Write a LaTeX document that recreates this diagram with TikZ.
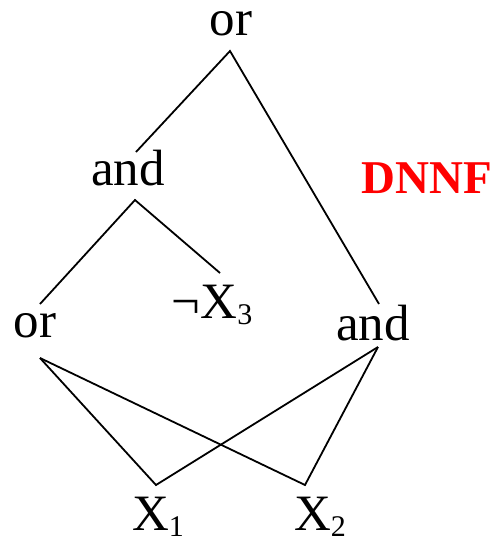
\documentclass[tikz,border=0pt]{standalone}
\usepackage{xcolor}
\usepackage{fontspec}
\setmainfont{Liberation Serif}
\usepackage{tikz}

\newcommand{\lowidx}[1]{\raisebox{-6pt}{\fontsize{30}{30}\selectfont #1}}

\begin{document}
\begin{tikzpicture}[x=1pt, y=-1pt, line width=1.8pt,
  lbl/.style={anchor=base, inner sep=0pt, font=\fontsize{51}{60}\selectfont}]

\useasboundingbox (0,0) rectangle (495,539);

% Knoten
\node[lbl] (or0) at (231,35) {or};
\node[lbl] (and1) at (128,185) {and};
\node[lbl] (or2) at (35,337) {or};
\node[lbl] (nx3) at (212,318) {¬X\lowidx{3}};
\node[lbl] (and2) at (373,340) {and};
\node[lbl] (x1) at (158,530) {X\lowidx{1}};
\node[lbl] (x2) at (320,530) {X\lowidx{2}};

\node[anchor=base, inner sep=0pt, text=red,
  font=\fontsize{47}{56}\selectfont\bfseries] (dnnf) at (427,193) {DNNF};

% Anschlusspunkte
\coordinate (or0-s) at ([shift={(-1,16)}]or0.base);
\coordinate (and1-n) at ([shift={(8,-33)}]and1.base);
\coordinate (and1-s) at ([shift={(7,15)}]and1.base);
\coordinate (or2-n) at ([shift={(5,-33)}]or2.base);
\coordinate (or2-s) at ([shift={(5,21)}]or2.base);
\coordinate (nx3-n) at ([shift={(8,-45)}]nx3.base);
\coordinate (and2-n) at ([shift={(6,-36)}]and2.base);
\coordinate (and2-s) at ([shift={(5,7)}]and2.base);
\coordinate (x1-n) at ([shift={(-2,-45)}]x1.base);
\coordinate (x2-n) at ([shift={(-15,-45)}]x2.base);

% Kanten
\draw (and1-n) -- (or0-s) -- (and2-n);
\draw (or2-n) -- (and1-s) -- (nx3-n);
\draw (or2-s) -- (x1-n) -- (and2-s);
\draw (or2-s) -- (x2-n) -- (and2-s);

\end{tikzpicture}
\end{document}
